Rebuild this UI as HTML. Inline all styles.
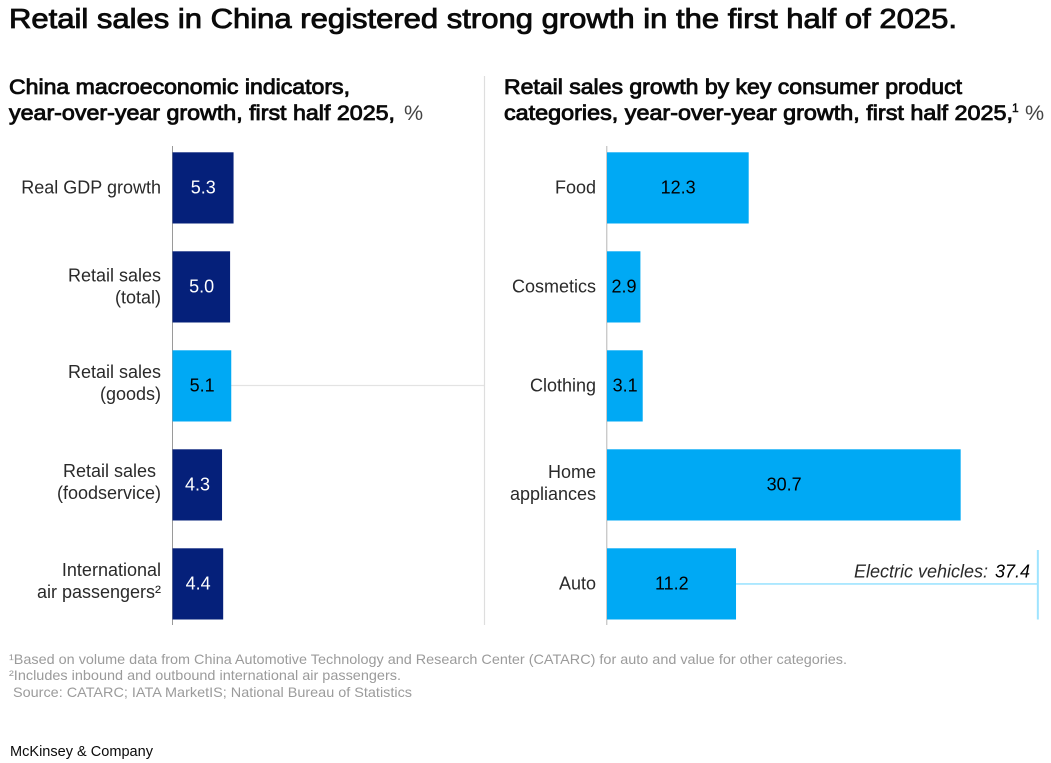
<!DOCTYPE html>
<html lang="en">
<head>
<meta charset="utf-8">
<title>Retail sales in China</title>
<style>
html,body{margin:0;padding:0;background:#fff;width:1051px;height:763px;overflow:hidden}
svg{display:block;font-family:"Liberation Sans",sans-serif}
.ttl{font-size:27.5px;fill:#0a0a0a;stroke:#0a0a0a;stroke-width:.85px}
.sub{font-size:21.5px;fill:#0a0a0a;stroke:#0a0a0a;stroke-width:.85px}
.unit{font-size:21.5px;fill:#444}
.foot{font-size:14px;fill:#9b9b9b}
.cat{font-size:18px;fill:#2a2a2a;text-anchor:end}
.val{font-size:18px;text-anchor:middle}
</style>
</head>
<body>
<svg id="chart" width="1051" height="763" viewBox="0 0 1051 763" xmlns="http://www.w3.org/2000/svg">
  <text class="ttl" x="9" y="28" textLength="948" lengthAdjust="spacingAndGlyphs">Retail sales in China registered strong growth in the first half of 2025.</text>

  <text class="sub" x="9" y="94" textLength="341" lengthAdjust="spacingAndGlyphs">China macroeconomic indicators,</text>
  <text class="sub" x="9" y="120" textLength="386" lengthAdjust="spacingAndGlyphs">year-over-year growth, first half 2025,</text>
  <text class="unit" x="404" y="120">%</text>

  <text class="sub" x="504" y="94" textLength="458" lengthAdjust="spacingAndGlyphs">Retail sales growth by key consumer product</text>
  <text class="sub" x="504" y="120" textLength="509" lengthAdjust="spacingAndGlyphs">categories, year-over-year growth, first half 2025,</text>
  <text x="1012" y="112" font-size="12" fill="#0a0a0a" stroke="#0a0a0a" stroke-width=".4">1</text>
  <text class="unit" x="1025" y="120">%</text>

  <line x1="484.5" y1="76" x2="484.5" y2="625" stroke="#dedede" stroke-width="1.2"/>
  <line x1="231" y1="385.5" x2="484" y2="385.5" stroke="#e3e3e3" stroke-width="1.2"/>
  <line x1="172.5" y1="146" x2="172.5" y2="625" stroke="#9a9a9a" stroke-width="1"/>
  <line x1="606.8" y1="146" x2="606.8" y2="625" stroke="#b5b5b5" stroke-width="1"/>

  <g id="left-bars"></g>
  <g id="right-bars"></g>
  <g id="ev-marker"></g>

  <text class="foot" x="9" y="664" textLength="838" lengthAdjust="spacingAndGlyphs">¹Based on volume data from China Automotive Technology and Research Center (CATARC) for auto and value for other categories.</text>
  <text class="foot" x="9" y="680" textLength="392" lengthAdjust="spacingAndGlyphs">²Includes inbound and outbound international air passengers.</text>
  <text class="foot" x="13" y="697" textLength="399" lengthAdjust="spacingAndGlyphs">Source: CATARC; IATA MarketIS; National Bureau of Statistics</text>
  <text x="10" y="756" font-size="14.5" fill="#0a0a0a" textLength="143" lengthAdjust="spacingAndGlyphs">McKinsey &amp; Company</text>
</svg>
<script>
const leftCategories = [["Real GDP growth"], ["Retail sales", "(total)"], ["Retail sales", "(goods)"], ["Retail sales\u00a0", "(foodservice)"], ["International", "air passengers²"]];
const leftValues = [5.3, 5.0, 5.1, 4.3, 4.4];
const leftHighlight = ["(goods)"];
const rightCategories = [["Food"], ["Cosmetics"], ["Clothing"], ["Home", "appliances"], ["Auto"]];
const rightValues = [12.3, 2.9, 3.1, 30.7, 11.2];
const evLabel = "Electric vehicles:";
const evValue = 37.4;

const NS = "http://www.w3.org/2000/svg";
const UNIT = 11.52;
const NAVY = "#05207a";
const SKY = "#00a9f4";
function xLeft(v) { return 172.5 + v * UNIT; }
function xRight(v) { return 607 + v * UNIT; }
function yBand(i) { return 152.3 + i * 99; }
const BAND = 71.2;

function make(tag, parent, name, attrs) {
  const el = document.createElementNS(NS, tag);
  
  
  for (const k in attrs) el.setAttribute(k, attrs[k]);
  parent.appendChild(el);
  return el;
}

function drawPanel(groupId, prefix, cats, vals, xFn, axisX, labelX, twoLineTop, fillFn, textFn) {
  const g = document.getElementById(groupId);
  vals.forEach(function (v, i) {
    const slug = cats[i].join(' ').toLowerCase().replace(/[^a-z ]/g, '').trim().replace(/ +/g, '-');
    make('rect', g, prefix + '-bar-' + slug, {
      x: axisX, y: yBand(i), width: xFn(v) - axisX, height: BAND, fill: fillFn(i)
    });
    const mid = yBand(i) + BAND / 2;
    const val = make('text', g, prefix + '-value-' + slug, {
      x: (axisX + xFn(v)) / 2 + 0.3, y: mid + 5.8, 'class': 'val', fill: textFn(i)
    });
    val.textContent = v.toFixed(1);
    const lines = cats[i];
    lines.forEach(function (line, j) {
      const baseY = lines.length === 1 ? mid + 5.5 : mid + twoLineTop(i) + j * 22;
      const t = make('text', g, prefix + '-label-' + slug + '-' + (j + 1), {
        x: labelX, y: baseY, 'class': 'cat'
      });
      t.textContent = line;
    });
  });
}

function isHighlighted(i) { return leftHighlight.indexOf(leftCategories[i][1]) >= 0; }

drawPanel('left-bars', 'left', leftCategories, leftValues, xLeft, 172.5, 161,
  function (i) { return i === 1 ? -5.5 : -8; },
  function (i) { return isHighlighted(i) ? SKY : NAVY; },
  function (i) { return isHighlighted(i) ? '#000' : '#fff'; });

drawPanel('right-bars', 'right', rightCategories, rightValues, xRight, 607, 596,
  function () { return -7; },
  function () { return SKY; },
  function () { return '#000'; });

const ev = document.getElementById('ev-marker');
const autoIndex = 4;
const evY = yBand(autoIndex) + BAND / 2;
make('line', ev, 'ev-connector-line', {
  x1: xRight(rightValues[autoIndex]), y1: evY, x2: xRight(evValue), y2: evY, stroke: '#9fe4ff', 'stroke-width': 1.6
});
make('line', ev, 'ev-value-marker', {
  x1: xRight(evValue), y1: yBand(autoIndex) + 1.7, x2: xRight(evValue), y2: yBand(autoIndex) + BAND, stroke: '#9fe4ff', 'stroke-width': 2
});
const evName = make('text', ev, 'ev-label', {
  x: 988, y: 577.5, 'text-anchor': 'end', 'font-size': 18, 'font-style': 'italic', fill: '#2a2a2a'
});
evName.textContent = evLabel;
const evNum = make('text', ev, 'ev-value', {
  x: 1030, y: 577.5, 'text-anchor': 'end', 'font-size': 18, 'font-style': 'italic', fill: '#000'
});
evNum.textContent = evValue.toFixed(1);
</script>
</body>
</html>
